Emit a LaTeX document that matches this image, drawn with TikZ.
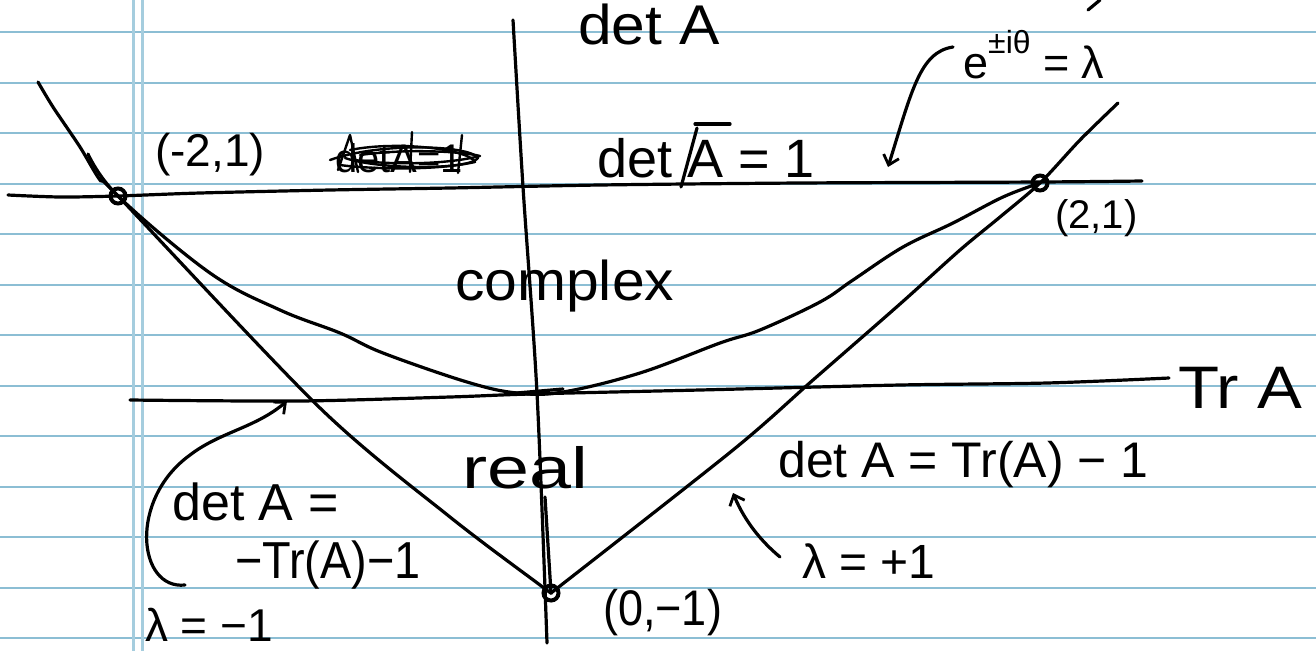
\documentclass[tikz,border=0pt]{standalone}
\usepackage{fontspec}
\setmainfont{Liberation Sans}
\usetikzlibrary{arrows.meta}
\definecolor{ruled}{RGB}{140,190,212}
\definecolor{marginc}{RGB}{165,205,222}
\begin{document}
\begin{tikzpicture}[x=1pt,y=-1pt,
  hand/.style={line width=3.2pt, line cap=round, line join=round},
  thinhand/.style={line width=2.4pt, line cap=round, line join=round},
  hw/.style={inner sep=0pt, anchor=base west},
  ptmark/.style={circle, draw, line width=4pt, minimum size=15pt, inner sep=0pt},
  tip/.style={-{Straight Barb[length=9pt,width=16pt,line width=2.8pt]}},
]
\useasboundingbox (0,0) rectangle (1316,651);
\fill[white] (0,0) rectangle (1316,651);
% ruled paper
\foreach \k in {0,...,12} \draw[ruled, line width=2pt] (0,{32+50.5*\k}) -- (1316,{32+50.5*\k});
\draw[marginc, line width=3pt] (133,0) -- (133,651);
\draw[marginc, line width=3pt] (142,0) -- (142,651);

% axes
\draw[hand] plot[smooth] coordinates {(513,20) (523,187) (537,393) (547,643)};
\draw[hand] plot[smooth] coordinates {(8,195) (60,197) (118,196) (200,193) (330,190) (450,188) (600,185) (800,183) (1040,182) (1142,181)};
\draw[hand] plot[smooth] coordinates {(130,400) (300,401) (450,397) (530,394) (700,390) (900,385) (1047,383) (1169,378)};

% special points
\node[ptmark] (m1) at (118,196) {};
\node[ptmark] (m2) at (1040,183) {};
\node[ptmark] (m3) at (551,593) {};

% parabola det = Tr^2/4
\draw[hand] plot[smooth, tension=0.6] coordinates {(88,154) (m1.center) (210,273) (280,310) (340,333) (383,353) (467,382) (517,393) (563,392) (640,373) (720,343) (760,330) (820,302) (853,280) (903,247) (953,223) (1003,197) (m2.center)};
% lambda = -1 line
\draw[hand] plot[smooth, tension=0.5] coordinates {(38,82) (53,107) (80,147) (100,180) (m1.center) (320,408) (450,517) (540,585) (m3.center)};
% lambda = +1 line
\draw[hand] plot[smooth, tension=0.5] coordinates {(m3.center) (733,450) (813,380) (900,304) (960,250) (1000,217) (m2.center) (1080,140) (1118,103)};
% extra strokes
\draw[hand] (545,497) -- (m3.center);
\draw[hand] (505,394) -- (563,389);
\draw[hand] (681,187) -- (697,128);
\draw[hand] (695,124) -- (730,124);
\draw[hand] (1088,10) -- (1100,0);

% labels
\node[hw, font=\fontsize{56}{56}\selectfont, xscale=1.08] (detA) at (578,44) {det A};
\node[hw, font=\fontsize{46}{46}\selectfont] (pm21) at (155,166) {(-2,1)};
\node[hw, font=\fontsize{40}{40}\selectfont] (scrib) at (335,172) {detA=1};
\draw[thinhand] (330,160) .. controls (380,142) and (470,145) .. (478,158) .. controls (470,170) and (380,170) .. (345,158);
\draw[thinhand] (350,150) .. controls (400,140) and (470,150) .. (475,162) .. controls (430,172) and (360,168) .. (340,165);
\draw[thinhand] (360,155) .. controls (410,148) and (465,152) .. (480,156) .. controls (440,166) and (380,164) .. (355,160);
\draw[thinhand] (338,170) -- (350,135) -- (358,172);
\draw[thinhand] (412,132) -- (410,172);
\draw[thinhand] (462,135) -- (458,173);
\node[hw, font=\fontsize{54}{54}\selectfont] (det1) at (597,177) {det A = 1};
\node[hw, font=\fontsize{45}{45}\selectfont] (eig) at (963,78) {e\raisebox{0.55em}{\fontsize{32}{32}\selectfont ±iθ} = λ};
\node[hw, font=\fontsize{40}{40}\selectfont] (p21) at (1055,228) {(2,1)};
\node[hw, font=\fontsize{56}{56}\selectfont, xscale=1.05] (cplx) at (455,300) {complex};
\node[hw, font=\fontsize{60}{60}\selectfont, xscale=1.12] (trA) at (1178,408) {Tr A};
\node[hw, font=\fontsize{50}{50}\selectfont] (lineP) at (778,477) {det A = Tr(A) − 1};
\node[hw, font=\fontsize{58}{58}\selectfont, xscale=1.3] (real) at (462,488) {real};
\node[hw, font=\fontsize{52}{52}\selectfont] (lineMa) at (172,520) {det A =};
\node[hw, font=\fontsize{52}{52}\selectfont, xscale=0.9] (lineMb) at (235,578) {−Tr(A)−1};
\node[hw, font=\fontsize{46}{46}\selectfont] (lamM) at (145,641) {λ = −1};
\node[hw, font=\fontsize{50}{50}\selectfont, xscale=0.9] (p0m1) at (603,625) {(0,−1)};
\node[hw, font=\fontsize{48}{48}\selectfont] (lamP) at (802,578) {λ = +1};

% arrows
\coordinate (a1s) at (953,47);
\coordinate (a1e) at (888,167);
\draw[hand, tip] (a1s) .. controls (920,52) and (912,90) .. (a1e);
\coordinate (a2s) at (780,557);
\coordinate (a2e) at (733,493);
\draw[hand, tip] (a2s) .. controls (762,542) and (745,522) .. (a2e);
\coordinate (a3s) at (185,585);
\coordinate (a3m) at (190,455);
\coordinate (a3e) at (287,401);
\draw[hand, tip] (a3s) .. controls (138,590) and (128,500) .. (a3m) .. controls (220,432) and (255,428) .. (a3e);
\end{tikzpicture}
\end{document}
